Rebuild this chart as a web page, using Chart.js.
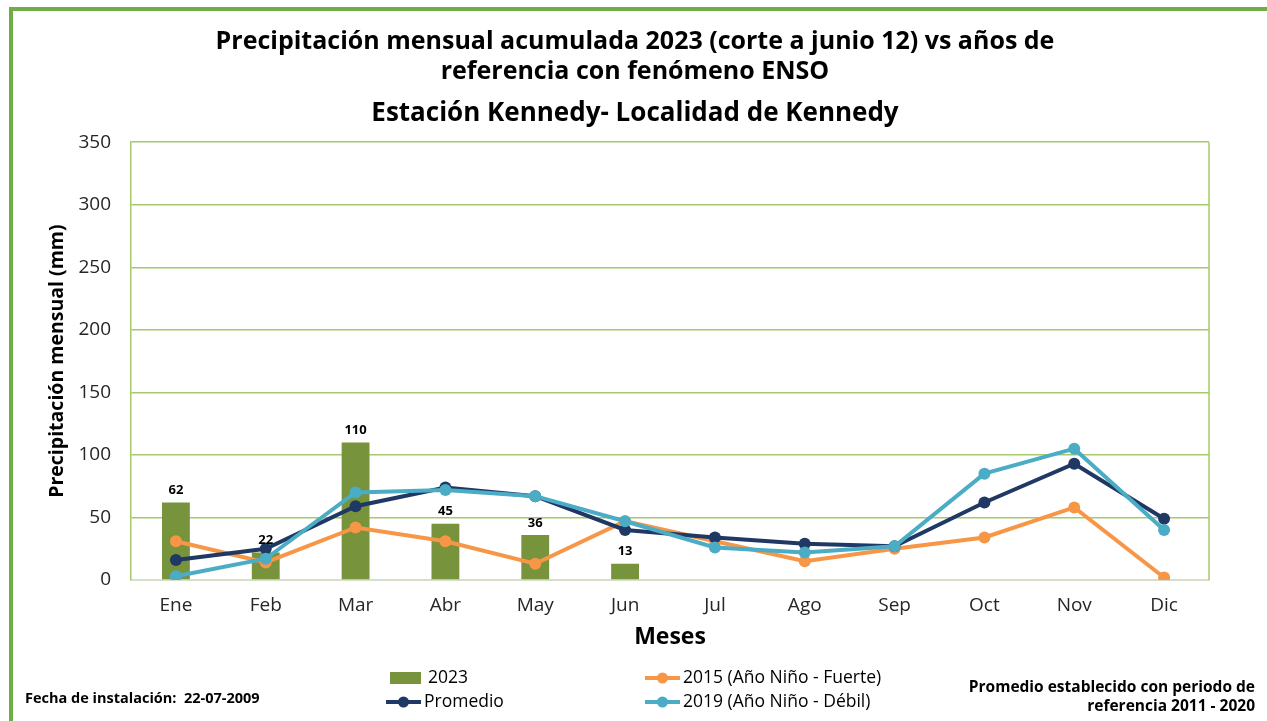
<!DOCTYPE html>
<html>
<head>
<meta charset="utf-8">
<script src="https://cdn.jsdelivr.net/npm/chart.js@4.4.0/dist/chart.umd.min.js"></script>
<style>
    html, body { margin: 0; padding: 0; background: #fff; }
    #wrap { width: 1267px; height: 721px; position: relative; }
</style>
</head>
<body>
<div id="wrap"><canvas id="chart" width="1267" height="721"></canvas></div>
<script>
const meses = ['Ene', 'Feb', 'Mar', 'Abr', 'May', 'Jun', 'Jul', 'Ago', 'Sep', 'Oct', 'Nov', 'Dic'];
const lluvia2023 = [62, 22, 110, 45, 36, 13, null, null, null, null, null, null];
const nino2015 = [31, 14, 42, 31, 13, 47, 31, 15, 25, 34, 58, 2];
const promedio = [16, 25, 59, 74, 67, 40, 34, 29, 27, 62, 93, 49];
const nino2019 = [3, 17, 70, 72, 67, 47, 26, 22, 27, 85, 105, 40];
const yTicks = [0, 50, 100, 150, 200, 250, 300, 350];

const VERDE = '#77933C';
const NARANJA = '#F79646';
const AZUL = '#1F3864';
const CIAN = '#4BACC6';
const FONT = "'Open Sans', sans-serif";

// marco verde, etiquetas de barras, leyenda y notas al pie
const extras = {
    id: 'extras',
    beforeDraw(chart) {
        const {ctx, width, height} = chart;
        ctx.save();
        ctx.fillStyle = '#fff';
        ctx.fillRect(0, 0, width, height);
        ctx.fillStyle = '#70AD47';
        ctx.fillRect(9, 7, width - 9, 4);
        ctx.fillRect(9, 7, 4, height - 7);
        ctx.restore();
    },
    afterDraw(chart) {
        const {ctx, chartArea} = chart;
        ctx.save();
        // borde derecho del área
        ctx.strokeStyle = '#A6CA6B';
        ctx.lineWidth = 1.5;
        ctx.beginPath();
        ctx.moveTo(chartArea.right, chartArea.top);
        ctx.lineTo(chartArea.right, chartArea.bottom);
        ctx.stroke();

        // valores encima de las barras
        const meta = chart.getDatasetMeta(0);
        ctx.fillStyle = '#000';
        ctx.font = `bold 13px ${FONT}`;
        ctx.textAlign = 'center';
        ctx.textBaseline = 'middle';
        meta.data.forEach((bar, i) => {
            const v = lluvia2023[i];
            if (v == null) return;
            ctx.fillText(String(v), bar.x, bar.y - 12);
        });

        // leyenda
        const ds = chart.data.datasets;
        const items = [
            {d: ds[0], x: 390, y: 678},
            {d: ds[1], x: 645, y: 678},
            {d: ds[2], x: 386, y: 702},
            {d: ds[3], x: 645, y: 702},
        ];
        ctx.font = `17.5px ${FONT}`;
        ctx.textAlign = 'left';
        items.forEach(it => {
            const c = it.d.backgroundColor;
            if (it.d.type === 'line') {
                ctx.strokeStyle = it.d.borderColor;
                ctx.lineWidth = 4;
                ctx.beginPath();
                ctx.moveTo(it.x, it.y);
                ctx.lineTo(it.x + 35, it.y);
                ctx.stroke();
                ctx.fillStyle = it.d.borderColor;
                ctx.beginPath();
                ctx.arc(it.x + 17.5, it.y, 5.5, 0, Math.PI * 2);
                ctx.fill();
            } else {
                ctx.fillStyle = c;
                ctx.fillRect(it.x, it.y - 6, 31, 12);
            }
            ctx.fillStyle = '#000';
            ctx.fillText(it.d.label, it.x + 38, it.y);
        });

        // notas
        ctx.font = `bold 14.5px ${FONT}`;
        ctx.fillText('Fecha de instalación:  22-07-2009', 25, 699);
        ctx.font = `bold 15.5px ${FONT}`;
        ctx.textAlign = 'right';
        ctx.fillText('Promedio establecido con periodo de', 1255, 688);
        ctx.fillText('referencia 2011 - 2020', 1255, 707);
        ctx.restore();
    }
};

new Chart(document.getElementById('chart'), {
    type: 'bar',
    data: {
        labels: meses,
        datasets: [
            {
                label: '2023',
                data: lluvia2023,
                backgroundColor: VERDE,
                categoryPercentage: 1,
                barPercentage: 0.31,
                order: 4
            },
            {
                type: 'line',
                label: '2015 (Año Niño - Fuerte)',
                data: nino2015,
                borderColor: NARANJA,
                backgroundColor: NARANJA,
                borderWidth: 4,
                pointRadius: 6,
                pointBorderWidth: 0,
                tension: 0,
                order: 3
            },
            {
                type: 'line',
                label: 'Promedio',
                data: promedio,
                borderColor: AZUL,
                backgroundColor: AZUL,
                borderWidth: 4,
                pointRadius: 6,
                pointBorderWidth: 0,
                tension: 0,
                order: 2
            },
            {
                type: 'line',
                label: '2019 (Año Niño - Débil)',
                data: nino2019,
                borderColor: CIAN,
                backgroundColor: CIAN,
                borderWidth: 4,
                pointRadius: 6,
                pointBorderWidth: 0,
                tension: 0,
                order: 1
            }
        ]
    },
    options: {
        responsive: false,
        animation: false,
        layout: {
            padding: {top: 27, left: 61, right: 58, bottom: 70}
        },
        plugins: {
            legend: {display: false},
            tooltip: {enabled: false},
            title: {
                display: true,
                text: ['Precipitación mensual acumulada 2023 (corte a junio 12) vs años de',
                    'referencia con fenómeno ENSO'],
                color: '#000',
                font: {family: FONT, size: 25, weight: 'bold', lineHeight: 1.2},
                padding: {top: 0, bottom: 5}
            },
            subtitle: {
                display: true,
                text: 'Estación Kennedy- Localidad de Kennedy',
                color: '#000',
                font: {family: FONT, size: 26, weight: 'bold', lineHeight: 1.2},
                padding: {top: 6, bottom: 13}
            }
        },
        scales: {
            x: {
                grid: {display: false},
                border: {display: true, color: '#D9D9D9', width: 1.5},
                ticks: {color: '#262626', font: {family: FONT, size: 19}, padding: 6},
                title: {
                    display: true,
                    text: 'Meses',
                    color: '#000',
                    font: {family: FONT, size: 23, weight: 'bold', lineHeight: 1.2},
                    padding: {top: 4, bottom: 0}
                },
                afterFit(scale) { scale.height = 71; }
            },
            y: {
                min: 0,
                max: 350,
                afterBuildTicks(scale) { scale.ticks = yTicks.map(v => ({value: v})); },
                grid: {color: '#A6CA6B', lineWidth: 1.5, drawTicks: false},
                border: {display: true, color: '#A6CA6B', width: 1.5},
                ticks: {color: '#262626', font: {family: FONT, size: 19}, padding: 20},
                title: {
                    display: true,
                    text: 'Precipitación mensual (mm)',
                    color: '#000',
                    font: {family: FONT, size: 19.5, weight: 'bold', lineHeight: 1.2},
                    padding: {top: -15.7, bottom: 0}
                },
                afterFit(scale) { scale.width = 70; }
            }
        }
    },
    plugins: [extras]
});
</script>
</body>
</html>
